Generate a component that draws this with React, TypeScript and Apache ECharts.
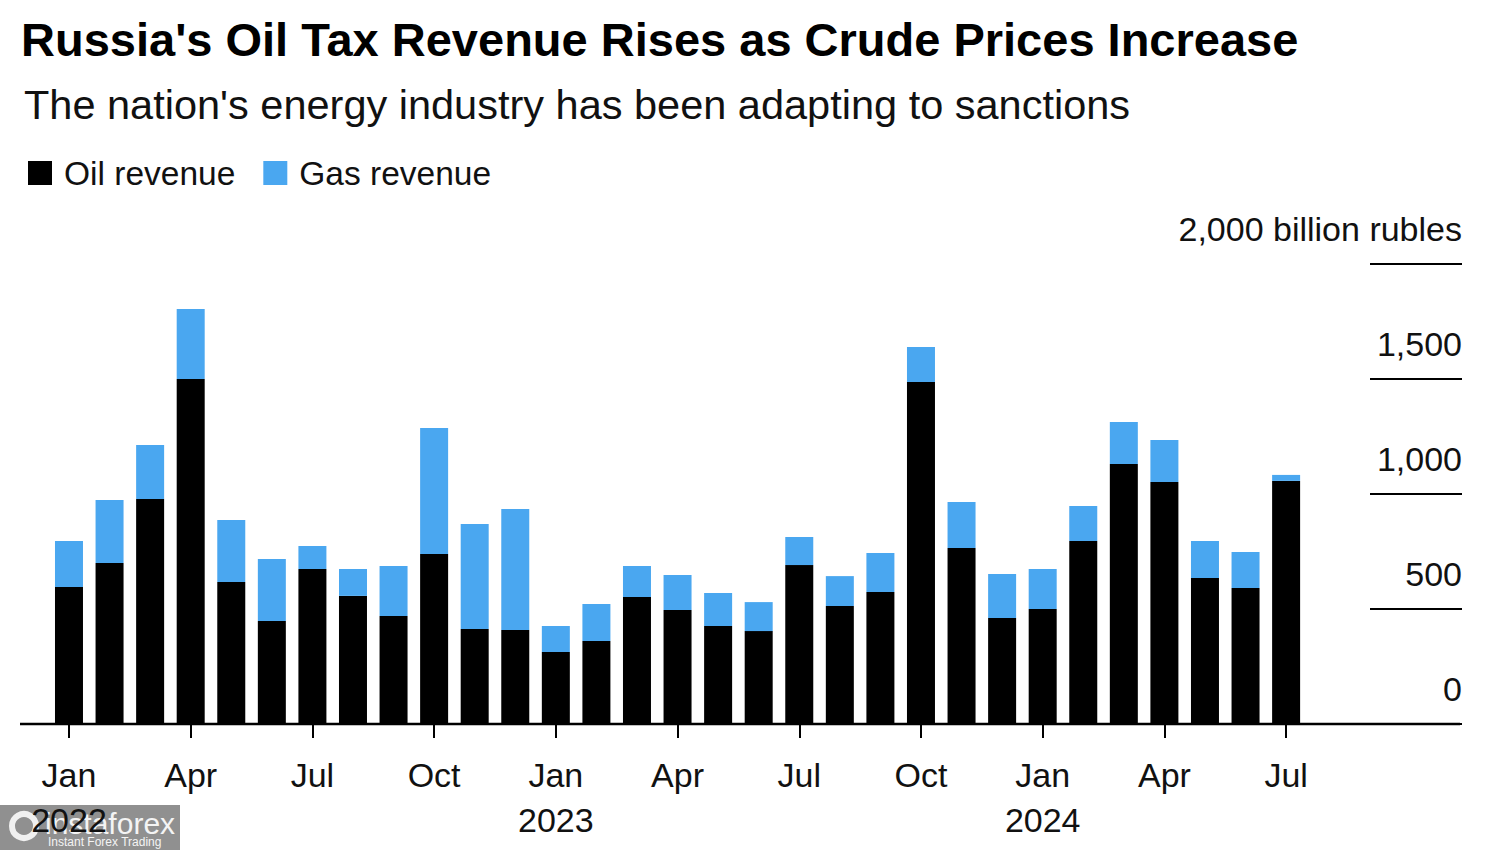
import React, { useEffect, useRef } from "react";
import * as echarts from "echarts";

const months = [
  "Jan 2022", "Feb 2022", "Mar 2022", "Apr 2022", "May 2022", "Jun 2022",
  "Jul 2022", "Aug 2022", "Sep 2022", "Oct 2022", "Nov 2022", "Dec 2022",
  "Jan 2023", "Feb 2023", "Mar 2023", "Apr 2023", "May 2023", "Jun 2023",
  "Jul 2023", "Aug 2023", "Sep 2023", "Oct 2023", "Nov 2023", "Dec 2023",
  "Jan 2024", "Feb 2024", "Mar 2024", "Apr 2024", "May 2024", "Jun 2024",
  "Jul 2024",
];
const oilRevenue = [
  596, 700, 978, 1500, 617, 448, 674, 557, 470, 739, 413, 409,
  313, 361, 552, 496, 426, 404, 691, 513, 574, 1487, 765, 461,
  500, 796, 1130, 1052, 635, 591, 1057,
];
const gasRevenue = [
  200, 274, 235, 304, 270, 269, 100, 117, 217, 548, 457, 526,
  113, 161, 135, 152, 144, 126, 122, 130, 169, 152, 200, 191,
  174, 152, 183, 183, 161, 157, 26,
];
const yTicks = [0, 500, 1000, 1500, 2000];

const FONT = '"Liberation Sans", Arial, Helvetica, sans-serif';

export default function App() {
  const ref = useRef<HTMLDivElement>(null);
  useEffect(() => {
    if (!ref.current) return;
    const chart = echarts.init(ref.current, undefined, { renderer: "svg" });
    const gridLeft = 48.7;
    const gridRight = 1500 - 1306.4;
    chart.setOption({
      animation: false,
      backgroundColor: "#ffffff",
      textStyle: { fontFamily: FONT },
      title: [
        {
          text: "Russia's Oil Tax Revenue Rises as Crude Prices Increase",
          left: 16,
          top: 11,
          textStyle: { fontFamily: FONT, fontSize: 47, fontWeight: "bold", color: "#000" },
        },
        {
          text: "The nation's energy industry has been adapting to sanctions",
          left: 19,
          top: 78,
          textStyle: { fontFamily: FONT, fontSize: 41.5, fontWeight: "normal", color: "#111" },
        },
      ],
      legend: {
        left: 23,
        top: 151,
        icon: "rect",
        itemWidth: 24,
        itemHeight: 24,
        itemGap: 28,
        textStyle: { fontFamily: FONT, fontSize: 33.5, color: "#111", padding: [0, 0, 0, 7] },
        data: ["Oil revenue", "Gas revenue"],
      },
      grid: { left: gridLeft, right: gridRight, top: 264, bottom: 126, containLabel: false },
      xAxis: {
        type: "category",
        data: months,
        axisLine: { show: false },
        axisTick: {
          show: true,
          interval: 2,
          alignWithLabel: true,
          length: 14,
          lineStyle: { color: "#000", width: 2 },
        },
        axisLabel: {
          interval: 2,
          margin: 28,
          fontFamily: FONT,
          fontSize: 34,
          lineHeight: 45,
          color: "#111",
          formatter: (v: string) => {
            const [m, y] = v.split(" ");
            return m === "Jan" ? m + "\n" + y : m;
          },
        },
      },
      yAxis: {
        type: "value",
        position: "right",
        offset: 1462 - 1306.4,
        min: 0,
        max: 2000,
        interval: 500,
        splitLine: { show: false },
        axisLine: { show: false },
        axisTick: { show: true, inside: true, length: 92, lineStyle: { color: "#000", width: 2 } },
        axisLabel: {
          inside: true,
          margin: 0,
          fontFamily: FONT,
          fontSize: 34,
          color: "#111",
          verticalAlign: "bottom",
          padding: [0, 0, 18, 0],
          customValues: yTicks,
          formatter: (v: number) =>
            v === 2000 ? "2,000 billion rubles" : v.toLocaleString("en-US"),
        },
      },
      series: [
        {
          name: "Oil revenue",
          type: "bar",
          stack: "total",
          data: oilRevenue,
          barWidth: 28,
          itemStyle: { color: "#000000" },
        },
        {
          name: "Gas revenue",
          type: "bar",
          stack: "total",
          data: gasRevenue,
          barWidth: 28,
          itemStyle: { color: "#4aa7f0" },
        },
      ],
      graphic: [
        {
          type: "line",
          shape: { x1: 20, y1: 724, x2: 1460, y2: 724 },
          style: { stroke: "#000", lineWidth: 2.5 },
          z: 10,
        },
        {
          type: "group",
          left: 0,
          top: 805,
          z: 20,
          children: [
            { type: "rect", shape: { x: 0, y: 0, width: 180, height: 45 }, style: { fill: "rgba(120,120,120,0.82)" } },
            { type: "circle", shape: { cx: 24, cy: 21, r: 12 }, style: { fill: "none", stroke: "#f0f0f0", lineWidth: 6 } },
            { type: "text", x: 45, y: 3, style: { text: "instaforex", fill: "#f4f4f4", fontSize: 30, fontFamily: FONT } },
            { type: "text", x: 48, y: 31, style: { text: "Instant Forex Trading", fill: "#f4f4f4", fontSize: 12, fontFamily: FONT } },
          ],
        },
      ],
    });
    return () => chart.dispose();
  }, []);
  return (
    <div
      ref={ref}
      style={{ position: "fixed", left: 0, top: 0, width: 1500, height: 850 }}
    />
  );
}
